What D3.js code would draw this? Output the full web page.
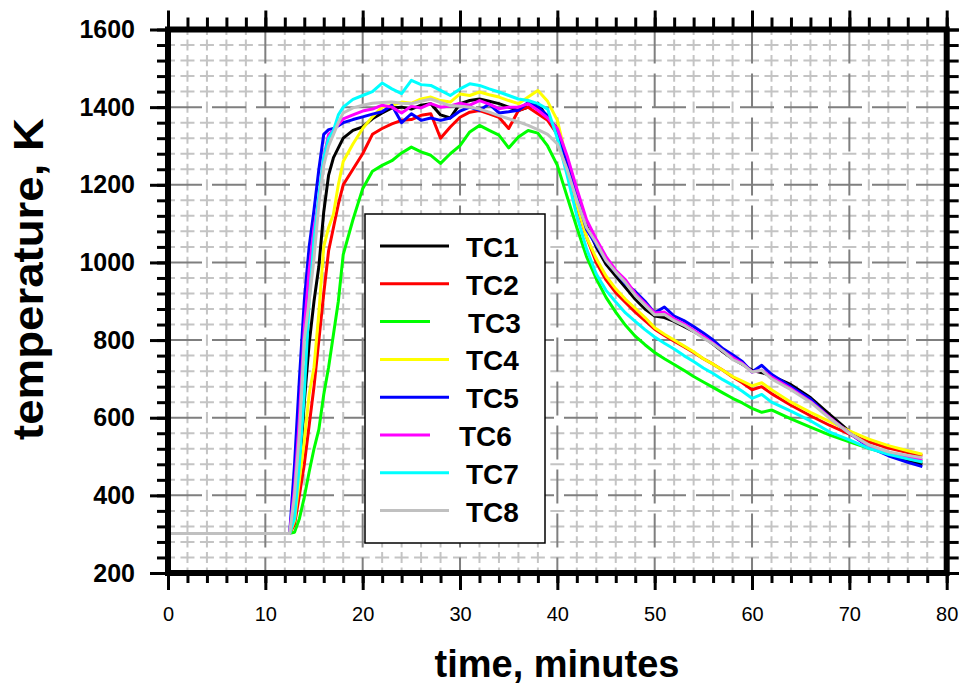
<!DOCTYPE html>
<html>
<head>
<meta charset="utf-8">
<script src="https://cdn.jsdelivr.net/npm/d3@7"></script>
<style>
  body { margin: 0; background: #fff; }
  text { font-family: "Liberation Sans", Arial, sans-serif; }
</style>
</head>
<body>
<div id="chart"></div>
<script>
// thermocouple readings, time in minutes, temperature in K

const MINUTES = [0, 12.5, 13, 13.5, 14, 14.5, 15, 15.5, 16, 16.5, 17, 17.5, 18,
	19, 20, 21, 22, 23, 24, 25, 26, 27, 28, 29, 30, 31, 32, 33, 34, 35, 36, 37, 38, 39,
	40, 41, 42, 43, 44, 45, 46, 47, 48, 49, 50, 51, 52, 53, 54, 55, 56, 57, 58, 59, 60, 61, 62,
	64, 66, 68, 70, 72, 74, 76, 77.5];

const TC1 = [302, 302, 340, 460, 640, 790, 900, 990, 1130, 1225, 1270, 1295, 1320,
	1340, 1349, 1370, 1385, 1398, 1400, 1395, 1405, 1409, 1380, 1372, 1409, 1417, 1421, 1415, 1409, 1400, 1391, 1400, 1410, 1372,
	1345, 1260, 1165, 1095, 1040, 995, 965, 935, 905, 880, 862, 858, 848, 835, 822, 808, 790, 770, 752, 738, 722, 716, 708,
	685, 652, 608, 565, 528, 505, 490, 480];

const TC2 = [302, 302, 325, 400, 480, 580, 680, 800, 920, 1030, 1090, 1150, 1200,
	1240, 1280, 1330, 1345, 1357, 1366, 1368, 1379, 1383, 1320, 1349, 1374, 1387, 1391, 1383, 1374, 1345, 1391, 1400, 1383, 1366,
	1330, 1245, 1145, 1065, 1000, 955, 922, 897, 872, 850, 828, 812, 797, 783, 768, 752, 738, 722, 705, 690, 672, 680, 662,
	632, 605, 580, 558, 538, 522, 510, 502];

const TC3 = [302, 302, 305, 340, 395, 460, 520, 570, 660, 730, 815, 900, 1020,
	1110, 1190, 1235, 1250, 1262, 1282, 1297, 1285, 1276, 1255, 1280, 1301, 1336, 1353, 1340, 1328, 1295, 1323, 1340, 1333, 1300,
	1250, 1170, 1090, 1015, 958, 910, 872, 838, 810, 788, 768, 752, 737, 722, 706, 692, 678, 664, 650, 638, 624, 614, 620,
	597, 576, 555, 538, 521, 507, 495, 488];

const TC4 = [302, 302, 335, 440, 540, 660, 730, 870, 1040, 1090, 1125, 1200, 1260,
	1305, 1345, 1375, 1400, 1405, 1413, 1410, 1421, 1426, 1417, 1413, 1434, 1430, 1439, 1432, 1426, 1417, 1409, 1426, 1443, 1415,
	1366, 1260, 1150, 1065, 1010, 965, 932, 905, 882, 858, 832, 815, 800, 785, 770, 752, 738, 722, 706, 694, 682, 690, 672,
	640, 614, 590, 566, 545, 528, 515, 506];

const TC5 = [302, 302, 480, 700, 900, 1040, 1135, 1240, 1330, 1342, 1345, 1352, 1360,
	1368, 1375, 1382, 1388, 1405, 1360, 1383, 1366, 1372, 1366, 1372, 1390, 1400, 1392, 1408, 1385, 1388, 1392, 1412, 1400, 1378,
	1335, 1260, 1170, 1085, 1045, 1005, 975, 945, 925, 900, 870, 885, 862, 850, 835, 818, 800, 778, 762, 745, 718, 735, 712,
	680, 648, 600, 560, 525, 502, 485, 474];

const TC6 = [302, 302, 420, 600, 830, 980, 1090, 1160, 1270, 1330, 1340, 1355, 1370,
	1380, 1390, 1395, 1405, 1400, 1385, 1402, 1398, 1409, 1400, 1403, 1410, 1405, 1417, 1408, 1396, 1400, 1400, 1409, 1392, 1372,
	1345, 1275, 1190, 1110, 1060, 1015, 980, 955, 920, 895, 870, 872, 855, 842, 825, 810, 792, 772, 755, 740, 718, 722, 705,
	675, 642, 600, 560, 528, 508, 498, 492];

const TC7 = [302, 302, 340, 480, 660, 900, 1060, 1170, 1270, 1320, 1340, 1380, 1400,
	1420, 1430, 1440, 1462, 1447, 1435, 1469, 1458, 1456, 1443, 1430, 1447, 1460, 1456, 1447, 1439, 1430, 1421, 1417, 1409, 1395,
	1320, 1225, 1120, 1035, 970, 928, 898, 870, 848, 827, 808, 792, 777, 760, 745, 728, 714, 698, 684, 668, 650, 660, 640,
	617, 592, 563, 543, 521, 506, 494, 486];

const TC8 = [302, 302, 400, 560, 800, 900, 1010, 1150, 1250, 1300, 1330, 1360, 1385,
	1398, 1405, 1410, 1412, 1413, 1410, 1409, 1415, 1421, 1412, 1404, 1402, 1400, 1395, 1387, 1378, 1370, 1362, 1353, 1342, 1330,
	1305, 1240, 1160, 1090, 1050, 1005, 975, 948, 915, 890, 865, 866, 850, 838, 822, 805, 790, 772, 750, 738, 718, 722, 700,
	672, 640, 598, 560, 530, 512, 503, 497];

const SERIES_NAMES = ['TC1', 'TC2', 'TC3', 'TC4', 'TC5', 'TC6', 'TC7', 'TC8'];
const SERIES_VALUES = [TC1, TC2, TC3, TC4, TC5, TC6, TC7, TC8];

const X_TICKS = [0, 10, 20, 30, 40, 50, 60, 70, 80];
const Y_TICKS = [200, 400, 600, 800, 1000, 1200, 1400, 1600];

// styles
const COLORS = ['#000000', '#ff0000', '#00ff00', '#ffff00', '#0000ff', '#ff00ff', '#00ffff', '#c0c0c0'];
const LEGEND_LINE_LEN = [69, 69, 50, 69, 69, 50, 69, 69];
const LEGEND_TEXT_SHIFT = [0, 0, 2, 0, 0, -7, 0, 0];

const FRAME_WIDTH = 959;
const FRAME_HEIGHT = 686;
const MARGINS = {left: 168, right: 12.3, top: 29.5, bottom: 113};

const X_SCALE = d3.scaleLinear()
	.domain([0, 80])
	.range([MARGINS.left, FRAME_WIDTH - MARGINS.right]);

const Y_SCALE = d3.scaleLinear()
	.domain([200, 1600])
	.range([FRAME_HEIGHT - MARGINS.bottom, MARGINS.top]);

const X0 = X_SCALE(0), X1 = X_SCALE(80);
const Y0 = Y_SCALE(200), Y1 = Y_SCALE(1600);

const FRAME =
d3.select("#chart")
	.append("svg")
		.attr("width", FRAME_WIDTH)
		.attr("height", FRAME_HEIGHT);

// grid, minor first
const X_MINOR = d3.range(0, 81, 2).filter((v) => v % 10 !== 0);
const Y_MINOR = d3.range(200, 1601, 40).filter((v) => v % 200 !== 0);

const DX = X_SCALE(2) - X_SCALE(0);
const DY = Y_SCALE(200) - Y_SCALE(240);

const GRID = FRAME.append("g");

GRID.selectAll(".minor-h")
	.data(Y_MINOR)
	.enter()
	.append("line")
		.attr("x1", X0).attr("x2", X1)
		.attr("y1", (d) => Y_SCALE(d)).attr("y2", (d) => Y_SCALE(d))
		.attr("stroke", "#c4c4c4")
		.attr("stroke-width", 2)
		.attr("stroke-dasharray", (DX * 0.72) + "," + (DX * 0.28))
		.attr("stroke-dashoffset", DX * 0.36);

GRID.selectAll(".minor-v")
	.data(X_MINOR)
	.enter()
	.append("line")
		.attr("x1", (d) => X_SCALE(d)).attr("x2", (d) => X_SCALE(d))
		.attr("y1", Y1).attr("y2", Y0)
		.attr("stroke", "#c4c4c4")
		.attr("stroke-width", 2)
		.attr("stroke-dasharray", (DY * 0.72) + "," + (DY * 0.28))
		.attr("stroke-dashoffset", DY * 0.36);

GRID.selectAll(".major-h")
	.data(Y_TICKS.slice(1, -1))
	.enter()
	.append("line")
		.attr("x1", X0).attr("x2", X1)
		.attr("y1", (d) => Y_SCALE(d)).attr("y2", (d) => Y_SCALE(d))
		.attr("stroke", "#7f7f7f")
		.attr("stroke-width", 2)
		.attr("stroke-dasharray", "34,10");

GRID.selectAll(".major-v")
	.data(X_TICKS.slice(1, -1))
	.enter()
	.append("line")
		.attr("x1", (d) => X_SCALE(d)).attr("x2", (d) => X_SCALE(d))
		.attr("y1", Y1).attr("y2", Y0)
		.attr("stroke", "#7f7f7f")
		.attr("stroke-width", 2)
		.attr("stroke-dasharray", "34,10");

// curves
const LINE = d3.line()
	.x((d) => X_SCALE(d[0]))
	.y((d) => Y_SCALE(d[1]));

SERIES_VALUES.forEach((values, i) => {
	FRAME.append("path")
		.datum(MINUTES.map((m, j) => [m, values[j]]))
		.attr("d", LINE)
		.attr("fill", "none")
		.attr("stroke", COLORS[i])
		.attr("stroke-width", 3)
		.attr("stroke-linejoin", "round");
});

// axes: major + minor ticks on all four sides
function style_axis(g) {
	g.select(".domain").remove();
	g.selectAll(".tick line").attr("stroke", "#000").attr("stroke-width", 3);
}

const X_MINOR_ALL = d3.range(0, 81, 2);
const Y_MINOR_ALL = d3.range(200, 1601, 40);

FRAME.append("g")
	.attr("transform", "translate(0," + Y0 + ")")
	.call(d3.axisBottom(X_SCALE).tickValues(X_MINOR_ALL).tickSize(10).tickFormat(""))
	.call(style_axis);

FRAME.append("g")
	.attr("transform", "translate(0," + Y0 + ")")
	.call(d3.axisBottom(X_SCALE).tickValues(X_TICKS).tickSize(17).tickPadding(17).tickFormat(d3.format("d")))
	.call(style_axis)
	.selectAll("text")
		.attr("font-size", "20px")
		.attr("fill", "#000")
		.attr("font-family", "Liberation Sans, Arial, sans-serif");

FRAME.append("g")
	.attr("transform", "translate(0," + Y1 + ")")
	.call(d3.axisTop(X_SCALE).tickValues(X_MINOR_ALL).tickSize(12).tickFormat(""))
	.call(style_axis);

FRAME.append("g")
	.attr("transform", "translate(0," + Y1 + ")")
	.call(d3.axisTop(X_SCALE).tickValues(X_TICKS).tickSize(19).tickFormat(""))
	.call(style_axis);

FRAME.append("g")
	.attr("transform", "translate(" + X0 + ",0)")
	.call(d3.axisLeft(Y_SCALE).tickValues(Y_MINOR_ALL).tickSize(11).tickFormat(""))
	.call(style_axis);

FRAME.append("g")
	.attr("transform", "translate(" + X0 + ",0)")
	.call(d3.axisLeft(Y_SCALE).tickValues(Y_TICKS).tickSize(18).tickPadding(15).tickFormat(d3.format("d")))
	.call(style_axis)
	.selectAll("text")
		.attr("font-size", "25px")
		.attr("font-weight", "bold")
		.attr("fill", "#000")
		.attr("font-family", "Liberation Sans, Arial, sans-serif");

FRAME.append("g")
	.attr("transform", "translate(" + X1 + ",0)")
	.call(d3.axisRight(Y_SCALE).tickValues(Y_MINOR_ALL).tickSize(12).tickFormat(""))
	.call(style_axis);

FRAME.append("g")
	.attr("transform", "translate(" + X1 + ",0)")
	.call(d3.axisRight(Y_SCALE).tickValues(Y_TICKS).tickSize(18).tickFormat(""))
	.call(style_axis);

// plot frame
FRAME.append("rect")
	.attr("x", X0)
	.attr("y", Y1)
	.attr("width", X1 - X0)
	.attr("height", Y0 - Y1)
	.attr("fill", "none")
	.attr("stroke", "#000")
	.attr("stroke-width", 6);

// legend
const LEGEND = FRAME.append("g").attr("transform", "translate(365,214)");

LEGEND.append("rect")
	.attr("width", 180)
	.attr("height", 329)
	.attr("fill", "#fff")
	.attr("stroke", "#000")
	.attr("stroke-width", 1.5);

SERIES_NAMES.forEach((name, i) => {
	let y = 32 + i * 37.8;
	LEGEND.append("line")
		.attr("x1", 15)
		.attr("x2", 15 + LEGEND_LINE_LEN[i])
		.attr("y1", y)
		.attr("y2", y)
		.attr("stroke", COLORS[i])
		.attr("stroke-width", 3);
	LEGEND.append("text")
		.attr("x", 101 + LEGEND_TEXT_SHIFT[i])
		.attr("y", y + 11)
		.attr("font-size", "28px")
		.attr("font-weight", "bold")
		.text(name);
});

// axis titles
FRAME.append("text")
	.attr("x", 557)
	.attr("y", 677)
	.attr("text-anchor", "middle")
	.attr("font-size", "38px")
	.attr("font-weight", "bold")
	.text("time, minutes");

FRAME.append("text")
	.attr("transform", "translate(43,279) rotate(-90)")
	.attr("text-anchor", "middle")
	.attr("font-size", "42px")
	.attr("font-weight", "bold")
	.attr("textLength", 322)
	.attr("lengthAdjust", "spacingAndGlyphs")
	.text("temperature, K");
</script>
</body>
</html>
